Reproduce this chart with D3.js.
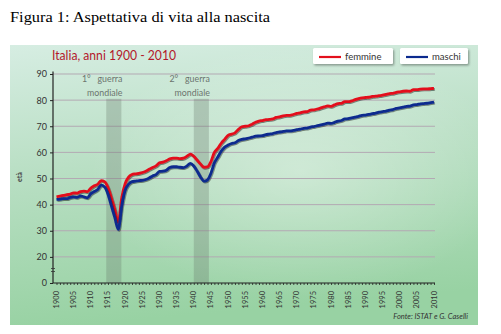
<!DOCTYPE html>
<html>
<head>
<meta charset="utf-8">
<script src="https://cdn.jsdelivr.net/npm/d3@7"></script>
<style>
  body { margin: 0; background: #fff; }
  svg { display: block; }
</style>
</head>
<body>
<div id="chart"></div>
<script>
// Data (ISTAT, life expectancy at birth)
var years = d3.range(1900, 2011);
var femmine = [
  43.0, 43.3, 43.5, 43.8, 44.0, 44.5, 44.4, 45.0, 45.2, 45.0,
  46.3, 47.2, 47.8, 49.2, 48.8, 46.5, 42.5, 38.0, 33.2, 42.5,
  48.0, 50.5, 51.5, 51.8, 52.0, 52.3, 52.8, 53.5, 54.2, 54.8,
  56.0, 56.3, 56.8, 57.5, 57.8, 57.8, 57.6, 57.8, 58.5, 59.3,
  58.5, 57.0, 55.5, 54.3, 54.5, 56.5, 60.0, 61.5, 63.5, 65.0,
  66.5, 67.0, 67.5, 68.8, 69.8, 70.0, 70.2, 70.8, 71.5, 72.0,
  72.2, 72.5, 72.6, 72.8, 73.4, 73.6, 74.0, 74.2, 74.2, 74.5,
  74.9, 75.1, 75.5, 75.6, 76.2, 76.3, 76.6, 77.0, 77.4, 77.8,
  77.6, 78.2, 78.7, 78.8, 79.4, 79.4, 79.7, 80.2, 80.6, 80.9,
  81.0, 81.1, 81.4, 81.5, 81.7, 81.9, 82.2, 82.5, 82.6, 83.0,
  83.2, 83.4, 83.5, 83.4, 84.0, 84.0, 84.2, 84.3, 84.3, 84.4,
  84.5
];
var maschi = [
  42.0, 42.1, 42.3, 42.3, 42.8, 43.0, 42.8, 43.3, 43.0, 42.6,
  44.2, 45.0, 45.8, 47.5, 46.8, 44.0, 39.5, 35.0, 30.5, 39.5,
  45.5, 47.8, 48.8, 49.0, 49.2, 49.3, 49.6, 50.2, 51.0, 51.5,
  52.7, 52.8, 53.2, 54.2, 54.5, 54.5, 54.3, 54.2, 54.8, 55.8,
  54.8, 52.8, 50.5, 49.0, 49.5, 52.0, 56.0, 58.2, 60.5, 62.0,
  62.8, 63.4, 63.7, 64.5, 65.0, 65.2, 65.5, 65.8, 66.2, 66.3,
  66.4, 66.8, 67.0, 67.2, 67.6, 67.8, 68.0, 68.2, 68.2, 68.4,
  68.7, 68.9, 69.2, 69.3, 69.7, 69.9, 70.2, 70.5, 70.8, 71.2,
  71.1, 71.5, 72.0, 72.2, 72.8, 72.9, 73.2, 73.5, 73.8, 74.2,
  74.3, 74.5, 74.8, 75.0, 75.4, 75.6, 75.8, 76.2, 76.4, 76.8,
  77.0, 77.3, 77.6, 77.7, 78.2, 78.3, 78.6, 78.7, 78.8, 79.0,
  79.2
];
var yTicks = [10, 20, 30, 40, 50, 60, 70, 80, 90];   // 10 is drawn as "0" (broken axis)
var xLabelYears = d3.range(1900, 2011, 5);
var guerre = [
  { l1: "1°\u00a0\u00a0 guerra", l2: "mondiale", from: 1914.5, to: 1918.9 },
  { l1: "2°\u00a0\u00a0 guerra", l2: "mondiale", from: 1940.0, to: 1944.4 }
];
var serie = [
  { name: "femmine", values: femmine, color: "#e3101c" },
  { name: "maschi",  values: maschi,  color: "#0b2a8e" }
];

var W = 501, H = 334;
var svg = d3.select("#chart").append("svg")
    .attr("width", W)
    .attr("height", H);

var defs = svg.append("defs");
var bg = defs.append("linearGradient").attr("id", "bg")
    .attr("x1", 0).attr("y1", 0).attr("x2", 0.15).attr("y2", 1);
bg.append("stop").attr("offset", "0%").attr("stop-color", "#d6ede2");
bg.append("stop").attr("offset", "45%").attr("stop-color", "#b9dfc4");
bg.append("stop").attr("offset", "100%").attr("stop-color", "#98d2a3");
var glow = defs.append("radialGradient").attr("id", "glow")
    .attr("cx", 0.62).attr("cy", 0.45).attr("r", 0.45);
glow.append("stop").attr("offset", "0%").attr("stop-color", "#ffffff").attr("stop-opacity", 0.35);
glow.append("stop").attr("offset", "100%").attr("stop-color", "#ffffff").attr("stop-opacity", 0);
var sh = defs.append("filter").attr("id", "sh")
    .attr("x", "-10%").attr("y", "-10%").attr("width", "120%").attr("height", "130%");
sh.append("feDropShadow").attr("dx", 0.8).attr("dy", 1)
    .attr("stdDeviation", 0.6).attr("flood-color", "#000").attr("flood-opacity", 0.45);
var bsh = defs.append("filter").attr("id", "bsh")
    .attr("x", "-10%").attr("y", "-20%").attr("width", "130%").attr("height", "160%");
bsh.append("feDropShadow").attr("dx", 1.2).attr("dy", 1.5)
    .attr("stdDeviation", 0.8).attr("flood-color", "#000").attr("flood-opacity", 0.35);

// title
svg.append("text")
    .attr("x", 10).attr("y", 22)
    .attr("textLength", 260).attr("lengthAdjust", "spacingAndGlyphs")
    .style("font-family", "'Liberation Serif', 'DejaVu Serif', serif")
    .style("font-size", "15.5px")
    .style("fill", "#000")
    .text("Figura 1: Aspettativa di vita alla nascita");

// panel
svg.append("rect").attr("x", 10).attr("y", 45).attr("width", 468).attr("height", 280)
    .attr("fill", "url(#bg)");
svg.append("rect").attr("x", 10).attr("y", 45).attr("width", 468).attr("height", 280)
    .attr("fill", "url(#glow)");

svg.append("text")
    .attr("x", 52).attr("y", 59.5)
    .attr("textLength", 124).attr("lengthAdjust", "spacingAndGlyphs")
    .style("font-family", "Lato, 'Open Sans', sans-serif")
    .style("font-size", "13px")
    .style("fill", "#b3182b")
    .text("Italia, anni 1900 - 2010");

var x = d3.scaleLinear().domain([1900, 2010]).range([56.5, 434]);
var y = d3.scaleLinear().domain([10, 90]).range([283, 74]);
var x0 = 53, x1 = 435;

// grid
svg.append("g").selectAll("line")
  .data(yTicks.filter(function(d) { return d > 10; }))
  .enter().append("line")
    .attr("x1", x0).attr("x2", x1)
    .attr("y1", function(d) { return y(d); })
    .attr("y2", function(d) { return y(d); })
    .attr("stroke", "#b3a9b3").attr("stroke-width", 1);

// war bands
var g = svg.append("g");
g.selectAll("rect.band").data(guerre).enter().append("rect")
    .attr("class", "band")
    .attr("x", function(d) { return x(d.from); })
    .attr("width", function(d) { return x(d.to) - x(d.from); })
    .attr("y", y(80.5))
    .attr("height", y(10) - y(80.5))
    .attr("fill", "#66766a").attr("fill-opacity", 0.3);
g.selectAll("text.l1").data(guerre).enter().append("text")
    .attr("x", function(d) { return x(d.to) + 1; })
    .attr("y", 82)
    .attr("text-anchor", "end")
    .style("font-family", "Lato, sans-serif").style("font-size", "8.8px")
    .style("fill", "#6b746e")
    .text(function(d) { return d.l1; });
g.selectAll("text.l2").data(guerre).enter().append("text")
    .attr("x", function(d) { return x(d.to) + 1; })
    .attr("y", 96)
    .attr("text-anchor", "end")
    .style("font-family", "Lato, sans-serif").style("font-size", "8.8px")
    .style("fill", "#6b746e")
    .text(function(d) { return d.l2; });

// lines
var line = d3.line()
    .x(function(d, i) { return x(years[i]); })
    .y(function(d) { return y(d); })
    .curve(d3.curveMonotoneX);
svg.append("g").selectAll("path").data(serie).enter().append("path")
    .attr("d", function(d) { return line(d.values); })
    .attr("fill", "none")
    .attr("stroke", function(d) { return d.color; })
    .attr("stroke-width", 2.8)
    .attr("stroke-linejoin", "round")
    .attr("filter", "url(#sh)");

// y axis
var yAxis = svg.append("g")
    .attr("transform", "translate(" + x0 + ",0)")
    .call(d3.axisLeft(y).tickValues(yTicks).tickSize(3).tickPadding(3)
      .tickFormat(function(d) { return d === 10 ? "0" : d; }));
yAxis.select(".domain").attr("d", "M0," + y(91) + "V" + y(10)).attr("stroke", "#222").attr("stroke-width", 1.2);
yAxis.selectAll(".tick line").attr("stroke", "#222");
yAxis.selectAll("text")
    .style("font-family", "Lato, 'Open Sans', sans-serif")
    .style("font-size", "9px")
    .style("fill", "#333");
// break marker
[268.5, 271.5].forEach(function(yy) {
  svg.append("line").attr("x1", x0 - 2).attr("x2", x0 + 2)
    .attr("y1", yy).attr("y2", yy).attr("stroke", "#333").attr("stroke-width", 0.8);
});

svg.append("text")
    .attr("transform", "translate(22,177) rotate(-90)")
    .attr("text-anchor", "middle")
    .style("font-family", "Lato, sans-serif").style("font-size", "7px")
    .style("font-weight", "bold").style("fill", "#444")
    .text("età");

// x axis
var xAxis = svg.append("g")
    .attr("transform", "translate(0," + y(10) + ")")
    .call(d3.axisBottom(x).tickValues(years).tickSize(2).tickFormat(""));
xAxis.select(".domain").attr("d", "M" + x0 + ",0H" + x1).attr("stroke", "#222").attr("stroke-width", 1.2);
xAxis.selectAll(".tick line").attr("stroke", "#222").attr("stroke-width", 0.8);

svg.append("g").selectAll("text").data(xLabelYears).enter().append("text")
    .attr("transform", function(d) { return "translate(" + (x(d) + 2.5) + "," + (y(10) + 8) + ") rotate(-90)"; })
    .attr("text-anchor", "end")
    .style("font-family", "Lato, 'Open Sans', sans-serif")
    .style("font-size", "7.5px")
    .style("fill", "#333")
    .text(function(d) { return d; });

// legend
var legend = [
  { s: serie[0], x: 313, w: 80 },
  { s: serie[1], x: 400, w: 68 }
];
var lg = svg.append("g").selectAll("g").data(legend).enter().append("g")
    .attr("transform", function(d) { return "translate(" + d.x + ",48)"; });
lg.append("rect")
    .attr("width", function(d) { return d.w; }).attr("height", 16)
    .attr("rx", 1.5)
    .attr("fill", "#fff").attr("filter", "url(#bsh)");
lg.append("line")
    .attr("x1", 6).attr("x2", 28).attr("y1", 9).attr("y2", 9)
    .attr("stroke", function(d) { return d.s.color; }).attr("stroke-width", 2.2);
lg.append("text")
    .attr("x", 32).attr("y", 12)
    .style("font-family", "Lato, sans-serif").style("font-size", "9.5px")
    .style("fill", "#333")
    .text(function(d) { return d.s.name; });

svg.append("text")
    .attr("x", 468).attr("y", 319)
    .attr("text-anchor", "end")
    .style("font-family", "Lato, sans-serif").style("font-size", "7.5px")
    .style("font-style", "italic").style("fill", "#333")
    .text("Fonte: ISTAT e G. Caselli");
</script>
</body>
</html>
